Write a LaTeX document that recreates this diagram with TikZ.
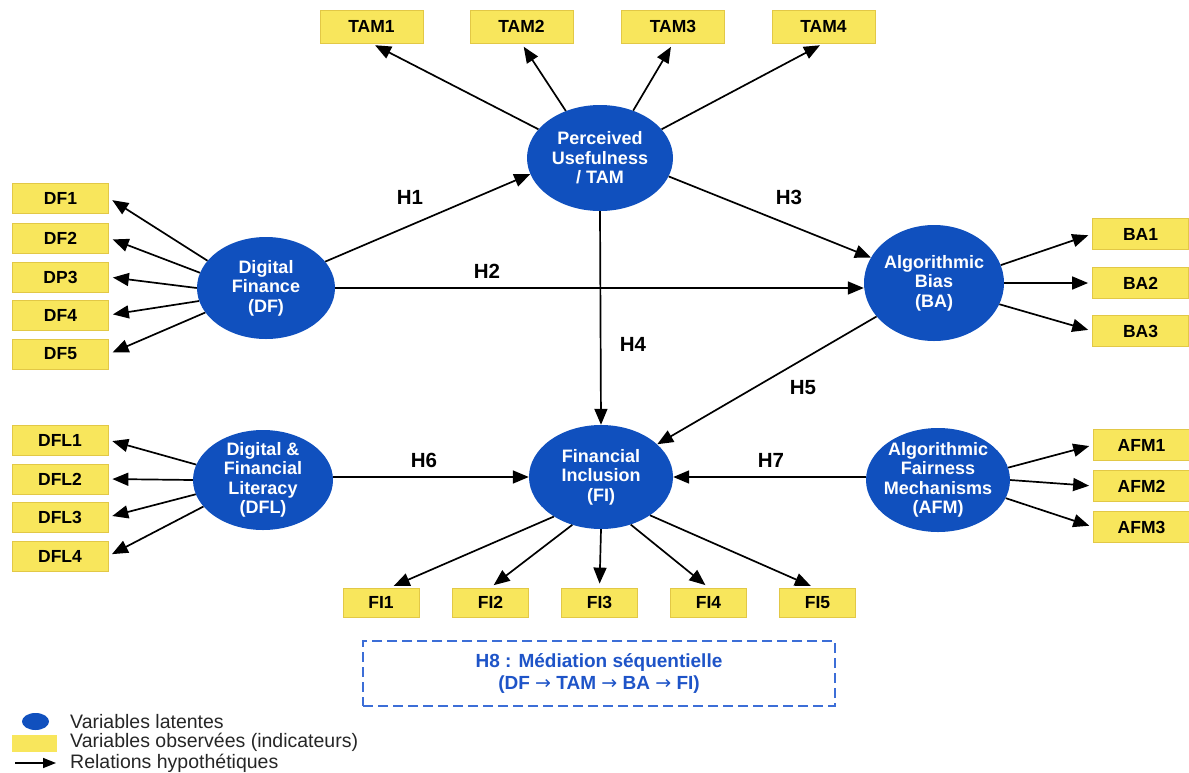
\documentclass[tikz,border=0pt]{standalone}
\usepackage{fontspec}
\setmainfont{Liberation Sans}
\newfontfamily\arrowfont{DejaVu Sans}
\usetikzlibrary{shapes.geometric,arrows.meta}
\definecolor{latblue}{RGB}{16,80,190}
\definecolor{boxyel}{RGB}{248,230,92}
\definecolor{boxedge}{RGB}{226,200,70}
\definecolor{hblue}{RGB}{30,84,200}
\definecolor{dashblue}{RGB}{60,110,215}
\newcommand{\rarr}{{\arrowfont\mdseries →}}
\begin{document}
\begin{tikzpicture}[x=1pt,y=-1pt,
  lat/.style={ellipse, fill=latblue, text=white, font=\bfseries\fontsize{18}{19.5}\selectfont, align=center, inner sep=-14pt},
  obs/.style={rectangle, fill=boxyel, draw=boxedge, line width=0.8pt, font=\bfseries\fontsize{17.5}{20}\selectfont, inner sep=0pt},
  tamb/.style={obs, minimum width=103pt, minimum height=33pt},
  sideb/.style={obs, minimum width=96pt, minimum height=30pt},
  fib/.style={obs, minimum width=76pt, minimum height=29pt},
  arr/.style={line width=1.7pt, -{Triangle[length=16pt,width=13pt]}, shorten >=4pt},
  hyp/.style={font=\bfseries\fontsize{20.5}{22}\selectfont},
  legtext/.style={anchor=west, font=\fontsize{19.5}{21}\selectfont, text=black!85, inner sep=0pt}
]
\useasboundingbox[fill=white] (0,0) rectangle (1189,772);

% latent variables
\node[lat, minimum width=146pt, minimum height=106pt] (tam) at (600,158) {Perceived\\Usefulness\\/ TAM};
\node[lat, minimum width=138pt, minimum height=102pt] (df) at (266,288) {Digital\\Finance\\(DF)};
\node[lat, minimum width=140pt, minimum height=116pt] (ba) at (934,283) {Algorithmic\\Bias\\(BA)};
\node[lat, minimum width=140pt, minimum height=100pt] (dfl) at (263,480) {Digital \&\\Financial\\Literacy\\(DFL)};
\node[lat, minimum width=144pt, minimum height=104pt] (fi) at (601,477) {Financial\\Inclusion\\(FI)};
\node[lat, minimum width=144pt, minimum height=104pt] (afm) at (938,480) {Algorithmic\\Fairness\\Mechanisms\\(AFM)};

% TAM indicators
\node[tamb] (tam1) at (371.5,26.5) {TAM1};
\node[tamb] (tam2) at (521.5,26.5) {TAM2};
\node[tamb] (tam3) at (673,26.5) {TAM3};
\node[tamb] (tam4) at (823.5,26.5) {TAM4};

% DF indicators
\node[sideb] (df1) at (60.5,198) {DF1};
\node[sideb] (df2) at (60.5,238) {DF2};
\node[sideb] (df3) at (60.5,277) {DP3};
\node[sideb] (df4) at (60.5,315) {DF4};
\node[sideb] (df5) at (60.5,354) {DF5};

% DFL indicators
\node[sideb] (dfl1) at (60,440) {DFL1};
\node[sideb] (dfl2) at (60,479) {DFL2};
\node[sideb] (dfl3) at (60,517) {DFL3};
\node[sideb] (dfl4) at (60,556) {DFL4};

% BA indicators
\node[sideb, minimum height=31pt] (ba1) at (1140.5,234) {BA1};
\node[sideb, minimum height=31pt] (ba2) at (1140.5,283) {BA2};
\node[sideb, minimum height=31pt] (ba3) at (1140.5,331) {BA3};

% AFM indicators
\node[sideb, minimum height=31pt] (afm1) at (1141.5,445) {AFM1};
\node[sideb, minimum height=31pt] (afm2) at (1141.5,486) {AFM2};
\node[sideb, minimum height=31pt] (afm3) at (1141.5,527) {AFM3};

% FI indicators
\node[fib] (fi1) at (381,602.5) {FI1};
\node[fib] (fi2) at (490.5,602.5) {FI2};
\node[fib] (fi3) at (599.5,602.5) {FI3};
\node[fib] (fi4) at (708.5,602.5) {FI4};
\node[fib] (fi5) at (817.5,602.5) {FI5};

% measurement arrows
\draw[arr] (tam.155) -- (tam1.south);
\draw[arr] (tam.126) -- (tam2.south);
\draw[arr] (tam.55) -- (tam3.south);
\draw[arr] (tam.25) -- (tam4.south);

\draw[arr] (df.155) -- (df1.east);
\draw[arr] (df.167) -- (df2.east);
\draw[arr] (df.180) -- (df3.east);
\draw[arr] (df.191) -- (df4.east);
\draw[arr] (df.202) -- (df5.east);

\draw[arr] (dfl.167) -- (dfl1.east);
\draw[arr] (dfl.180) -- (dfl2.east);
\draw[arr] (dfl.192) -- (dfl3.east);
\draw[arr] (dfl.204) -- (dfl4.east);

\draw[arr] (ba.15) -- (ba1.west);
\draw[arr] (ba.0) -- (ba2.west);
\draw[arr] (ba.342) -- (ba3.west);

\draw[arr] (afm.10) -- (afm1.west);
\draw[arr] (afm.0) -- (afm2.west);
\draw[arr] (afm.345) -- (afm3.west);

\draw[arr] (fi.220) -- ([xshift=9pt]fi1.north);
\draw[arr] (fi.239) -- (fi2.north);
\draw[arr] (fi.270) -- (fi3.north);
\draw[arr] (fi.302) -- (fi4.north);
\draw[arr] (fi.322) -- ([xshift=-3pt]fi5.north);

% structural arrows
\draw[arr, shorten >=0pt] (df.24) -- (tam.193);
\draw[arr, shorten >=0pt] (df.east) -- (df.east -| ba.west);
\draw[arr, shorten >=0pt] (tam.345) -- (ba.158);
\draw[arr, shorten >=0pt] (tam.south) -- (fi.north);
\draw[arr, shorten >=0pt] (ba) -- (fi);
\draw[arr, shorten >=0pt] (dfl.east |- fi.west) -- (fi.west);
\draw[arr, shorten >=0pt] (afm.west |- fi.east) -- (fi.east);

% hypothesis labels
\node[hyp] (h1) at (410,197) {H1};
\node[hyp] (h2) at (487,271) {H2};
\node[hyp] (h3) at (789,197) {H3};
\node[hyp] (h4) at (633,344) {H4};
\node[hyp] (h5) at (803,388) {H5};
\node[hyp] (h6) at (424,460) {H6};
\node[hyp] (h7) at (771,460) {H7};

% H8 box
\node[draw=dashblue, line width=1.5pt, dash pattern=on 10pt off 5pt, minimum width=472pt, minimum height=65pt, text=hblue, font=\bfseries\fontsize{19}{22}\selectfont, align=center, inner sep=0pt] (h8) at (599,673.5) {H8 : Médiation séquentielle\\(DF \rarr{} TAM \rarr{} BA \rarr{} FI)};

% legend
\node[ellipse, fill=latblue, minimum width=27pt, minimum height=17pt, inner sep=0pt] (legl) at (35.5,721.5) {};
\node[rectangle, fill=boxyel, minimum width=45pt, minimum height=17pt, inner sep=0pt] (lego) at (34.5,743.5) {};
\coordinate (lega) at (15,763);
\coordinate (legb) at (56,763);
\draw[line width=1.6pt, -{Triangle[length=13pt,width=10pt]}] (lega) -- (legb);
\node[legtext] (lt1) at (70,721.5) {Variables latentes};
\node[legtext] (lt2) at (70,742.5) {Variables observées (indicateurs)};
\node[legtext] (lt3) at (70,763) {Relations hypothétiques};
\end{tikzpicture}
\end{document}
